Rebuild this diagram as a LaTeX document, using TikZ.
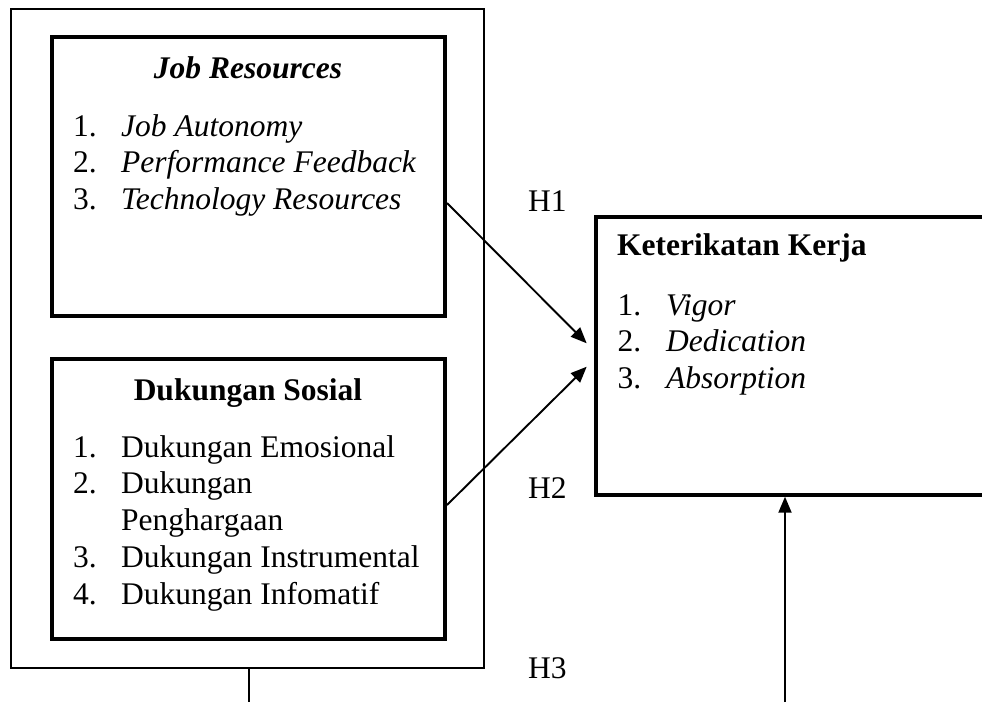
\documentclass[tikz,border=0pt]{standalone}
\usepackage{fontspec}
\setmainfont{Liberation Serif}
\usetikzlibrary{arrows.meta,calc}
\begin{document}
\begin{tikzpicture}[x=1pt,y=-1pt,
  outerbox/.style={draw, line width=2pt, inner sep=0pt},
  thickbox/.style={draw, line width=4pt, inner sep=0pt},
  txt/.style={inner sep=0pt, anchor=base west, font=\fontsize{31.5}{36.8}\selectfont},
  ttl/.style={inner sep=0pt, font=\fontsize{31.5}{36.8}\selectfont\bfseries},
  arr/.style={line width=1.9pt, -{Triangle[length=16pt,width=13pt]}},
  ln/.style={line width=2pt}]
\useasboundingbox (0,0) rectangle (982,702);
\clip (0,0) rectangle (982,702);
% boxes
\node[outerbox, minimum width=473.3pt, minimum height=658.7pt] (outer) at (247.65,338.35) {};
\node[thickbox, minimum width=393pt, minimum height=279pt] (jr) at (248.5,176.5) {};
\node[thickbox, minimum width=393pt, minimum height=279.5pt] (ds) at (248.5,498.75) {};
\node[thickbox, minimum width=410pt, minimum height=278pt] (kk) at (800.5,355.7) {};
% Job Resources
\node[ttl, anchor=base] (jrt) at (248,78) {\itshape Job Resources};
\node[txt] (jr1n) at (73,136) {1.};
\node[txt] (jr1) at (121,136) {\itshape Job Autonomy};
\node[txt] (jr2n) at (73,172.5) {2.};
\node[txt] (jr2) at (121,172.5) {\itshape Performance Feedback};
\node[txt] (jr3n) at (73,209) {3.};
\node[txt] (jr3) at (121,209) {\itshape Technology Resources};
% Dukungan Sosial
\node[ttl, anchor=base] (dst) at (248,400) {Dukungan Sosial};
\node[txt] (ds1n) at (73,457) {1.};
\node[txt] (ds1) at (121,457) {Dukungan Emosional};
\node[txt] (ds2n) at (73,493.5) {2.};
\node[txt] (ds2) at (121,493.5) {Dukungan};
\node[txt] (ds2b) at (121,530.5) {Penghargaan};
\node[txt] (ds3n) at (73,567.5) {3.};
\node[txt] (ds3) at (121,567.5) {Dukungan Instrumental};
\node[txt] (ds4n) at (73,604) {4.};
\node[txt] (ds4) at (121,604) {Dukungan Infomatif};
% Keterikatan Kerja
\node[ttl, anchor=base west] (kkt) at (617,255.5) {Keterikatan Kerja};
\node[txt] (kk1n) at (617.5,315) {1.};
\node[txt] (kk1) at (666,315) {\itshape Vigor};
\node[txt] (kk2n) at (617.5,351.7) {2.};
\node[txt] (kk2) at (666,351.7) {\itshape Dedication};
\node[txt] (kk3n) at (617.5,388.3) {3.};
\node[txt] (kk3) at (666,388.3) {\itshape Absorption};
% hypothesis labels
\node[txt] (h1) at (528,211.7) {H1};
\node[txt] (h2) at (528,498.3) {H2};
\node[txt] (h3) at (528,678.3) {H3};
% connectors
\coordinate (t1) at (586.7,343.3);
\coordinate (t2) at (586.7,366.7);
\coordinate (h3s) at (785,702);
\coordinate (ls) at (249.3,702);
\draw[arr] ($(jr.east)+(0,26.5)$) -- (t1);
\draw[arr] ($(ds.east)+(0,6.25)$) -- (t2);
\draw[arr] (h3s) -- (h3s |- kk.south);
\draw[ln] (ls |- outer.south) -- (ls);
\end{tikzpicture}
\end{document}
